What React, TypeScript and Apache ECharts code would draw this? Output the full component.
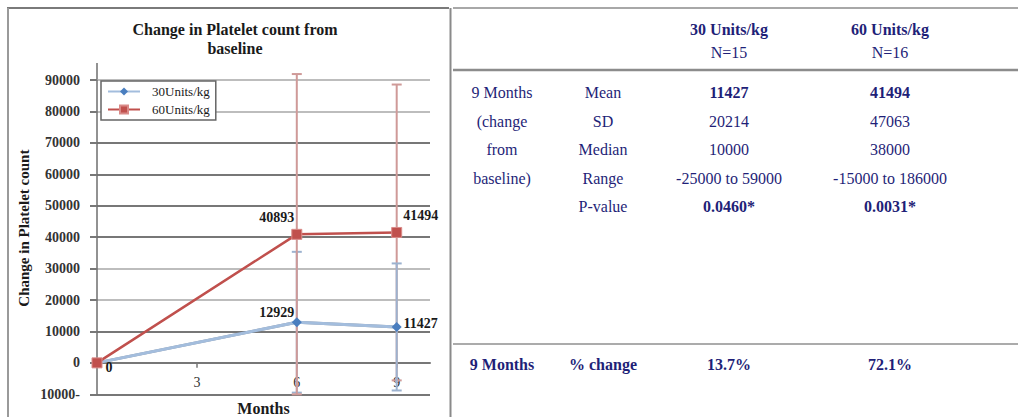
import React, { useEffect, useRef } from "react";
import * as echarts from "echarts";

// ---- chart data ----
const months = [0, 6, 9];
const units30 = [0, 12929, 11427];
const units60 = [0, 40893, 41494];
const err30 = [0, 22400, 20214];
const err60 = [0, 51000, 47063];
const seriesNames = ["30Units/kg", "60Units/kg"];
const xTickValues = [0, 3, 6, 9];
const xLabelValues = [3, 6, 9];
const chartTitle = "Change in Platelet count from\nbaseline";
const yAxisName = "Change in Platelet count";
const xAxisName = "Months";

// ---- table data ----
const headerGroups = ["30 Units/kg", "60 Units/kg"];
const headerN = ["N=15", "N=16"];
const periodLines = ["9 Months", "(change", "from", "baseline)"];
const statNames = ["Mean", "SD", "Median", "Range", "P-value"];
const stats30 = ["11427", "20214", "10000", "-25000 to 59000", "0.0460*"];
const stats60 = ["41494", "47063", "38000", "-15000 to 186000", "0.0031*"];
const pctLabels = ["9 Months", "% change"];
const pctValues = ["13.7%", "72.1%"];

// ---- styles ----
const SERIF = "Liberation Serif, Times New Roman, serif";
const NAVY = "#1f1f78";
const boldStat = [true, false, false, false, true];
const labelOffsets30: [number, number][] = [[12, 5], [-20, -10], [24, -3]];
const labelOffsets60: [number, number][] = [[0, 0], [-20, -17], [24, -17]];
const showLabel60 = [false, true, true];
const colX = [502, 603, 729, 890];
const rowY = [92, 121, 149, 178, 206];

export default function App() {
  const ref = useRef<HTMLDivElement>(null);
  useEffect(() => {
    if (!ref.current) return;
    const chart = echarts.init(ref.current, undefined, { renderer: "svg" });

    const labelStyle = {
      color: "#1a1a1a",
      fontFamily: SERIF,
      fontSize: 14,
      fontWeight: "bold" as const,
    };

    const d30 = months.map((m, i) => ({
      value: [m, units30[i]],
      label: { show: true, position: "inside", offset: labelOffsets30[i], ...labelStyle },
    }));
    const d60 = months.map((m, i) => ({
      value: [m, units60[i]],
      label: { show: showLabel60[i], position: "inside", offset: labelOffsets60[i], ...labelStyle },
    }));

    // error bars: [x, lo, hi, seriesIdx], ordered so drawing order matches
    const errData: number[][] = [];
    months.forEach((m, i) => {
      if (err30[i] === 0 && err60[i] === 0) return;
      const b = [m, units30[i] - err30[i], units30[i] + err30[i], 0];
      const r = [m, units60[i] - err60[i], units60[i] + err60[i], 1];
      if (i === 1) { errData.push(b, r); } else { errData.push(r, b); }
    });
    const errColors = ["#9cb2cf", "#cf9a98"];

    const graphics: any[] = [];
    const line = (x1: number, y1: number, x2: number, y2: number, stroke: string, w: number) =>
      graphics.push({ type: "line", silent: true, shape: { x1, y1, x2, y2 }, style: { stroke, lineWidth: w } });
    const text = (x: number, y: number, t: string, bold: boolean, size = 16) =>
      graphics.push({
        type: "text", x, y, silent: true,
        style: {
          text: t, align: "center", verticalAlign: "middle", fill: NAVY,
          font: `${bold ? "bold " : ""}${size}px ${SERIF}`,
        },
      });

    // panel borders
    line(7, 8, 449, 8, "#7a7a7a", 2);
    line(8, 8, 8, 417, "#9a9a9a", 2);
    line(450.5, 8, 450.5, 417, "#8a8a8a", 2);
    line(453, 8, 1018, 8, "#a8a8a8", 2);
    line(453, 70, 1018, 70, "#8c8c8c", 2.5);
    line(453, 344, 1018, 344, "#ababab", 2);
    // y axis extension above top gridline
    line(97, 63, 97, 80, "#6e6e6e", 1.5);

    // table header
    headerGroups.forEach((h, i) => text(colX[2 + i], 29, h, true));
    headerN.forEach((h, i) => text(colX[2 + i], 52, h, false));
    periodLines.forEach((p, i) => text(colX[0], rowY[i], p, false));
    statNames.forEach((s, i) => text(colX[1], rowY[i], s, false));
    stats30.forEach((s, i) => text(colX[2], rowY[i], s, boldStat[i]));
    stats60.forEach((s, i) => text(colX[3], rowY[i], s, boldStat[i]));
    pctLabels.forEach((s, i) => text(colX[i], 364, s, true));
    pctValues.forEach((s, i) => text(colX[2 + i], 364, s, true));

    const gridDark = "#777777";
    const gridLight = "#bdbdbd";

    chart.setOption({
      animation: false,
      backgroundColor: "#ffffff",
      textStyle: { fontFamily: SERIF },
      title: {
        text: chartTitle,
        left: 230,
        top: 15,
        textAlign: "center",
        textStyle: { fontFamily: SERIF, fontSize: 16, fontWeight: "bold", color: "#1a1a1a", lineHeight: 19 },
      },
      legend: {
        orient: "vertical",
        left: 101,
        top: 81,
        padding: [4, 6, 4, 6],
        itemGap: 5,
        itemWidth: 32,
        itemHeight: 10,
        borderColor: "#666",
        borderWidth: 1.5,
        backgroundColor: "#ffffff",
        textStyle: { fontFamily: SERIF, fontSize: 13, color: "#1a1a1a", padding: [0, 0, 0, 7] },
        data: seriesNames,
      },
      grid: { left: 97, top: 80, width: 333, height: 314.3, containLabel: false, outerBoundsMode: "none" },
      xAxis: {
        type: "value",
        min: 0,
        max: 10,
        interval: 3,
        name: xAxisName,
        nameLocation: "middle",
        nameGap: 6,
        nameTextStyle: { fontFamily: SERIF, fontSize: 16, fontWeight: "bold", color: "#1a1a1a", verticalAlign: "top" },
        axisLine: { onZero: true, lineStyle: { color: gridDark, width: 2 } },
        axisTick: { show: true, length: 5, customValues: xTickValues, lineStyle: { color: gridDark, width: 1.5 } },
        axisLabel: {
          customValues: xLabelValues,
          inside: true,
          margin: 5,
          fontFamily: SERIF,
          fontSize: 14,
          color: "#333",
        },
        splitLine: { show: false },
      },
      yAxis: {
        type: "value",
        min: -10000,
        max: 90000,
        interval: 10000,
        name: yAxisName,
        nameLocation: "middle",
        nameGap: 66,
        nameRotate: 90,
        nameTextStyle: { fontFamily: SERIF, fontSize: 15, fontWeight: "bold", color: "#1a1a1a", padding: [0, 0, 0, 18] },
        axisLine: { show: true, lineStyle: { color: "#6e6e6e", width: 1.5 } },
        axisTick: { show: true, length: 7, lineStyle: { color: gridDark, width: 2 } },
        axisLabel: {
          margin: 17,
          fontFamily: SERIF,
          fontSize: 14,
          fontWeight: "bold",
          color: "#333",
          formatter: (v: number) => (v < 0 ? String(-v) + "-" : String(v)),
        },
        splitLine: {
          show: true,
          lineStyle: {
            width: 2,
            color: [gridDark, gridDark, gridDark, gridLight, gridLight, gridDark, gridDark, gridDark, gridDark, gridLight, gridLight],
          },
        },
      },
      graphic: graphics,
      series: [
        {
          type: "custom",
          name: "err",
          z: 1,
          silent: true,
          data: errData,
          renderItem: (params: any, api: any) => {
            const x = api.value(0);
            const lo = Math.max(api.value(1), -10000);
            const hi = Math.min(api.value(2), 95000);
            const c = errColors[api.value(3)];
            const top = api.coord([x, hi]);
            const bot = api.coord([x, lo]);
            const hw = 5;
            const st = { stroke: c, lineWidth: 2 };
            return {
              type: "group",
              children: [
                { type: "line", shape: { x1: top[0], y1: top[1], x2: bot[0], y2: bot[1] }, style: st },
                { type: "line", shape: { x1: top[0] - hw, y1: top[1], x2: top[0] + hw, y2: top[1] }, style: st },
                { type: "line", shape: { x1: bot[0] - hw, y1: bot[1], x2: bot[0] + hw, y2: bot[1] }, style: st },
              ],
            };
          },
        },
        {
          type: "line",
          name: seriesNames[0],
          z: 3,
          data: d30,
          symbol: "diamond",
          symbolSize: 10,
          itemStyle: { color: "#4a7ebf" },
          lineStyle: { color: "#a3bddd", width: 3, shadowColor: "rgba(70,80,100,0.7)", shadowBlur: 1.5 },
        },
        {
          type: "line",
          name: seriesNames[1],
          z: 4,
          data: d60,
          symbol: "rect",
          symbolSize: 10,
          itemStyle: { color: "#c0504d", borderColor: "#d98a88", borderWidth: 1 },
          lineStyle: { color: "#c0504d", width: 2.5 },
        },
      ],
    });
    return () => chart.dispose();
  }, []);

  return (
    <div
      ref={ref}
      style={{ position: "fixed", left: 0, top: 0, width: 1018, height: 417, background: "#fff" }}
    />
  );
}
